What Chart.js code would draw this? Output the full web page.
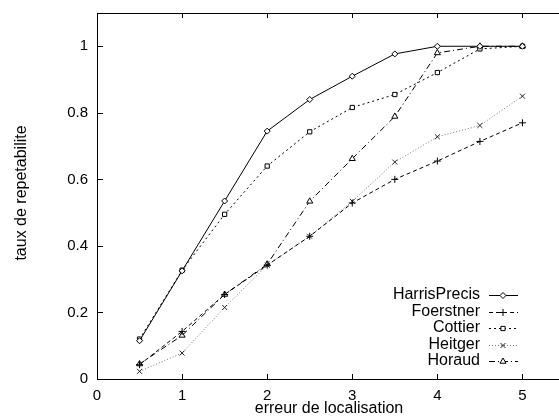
<!DOCTYPE html>
<html>
<head>
<meta charset="utf-8">
<script src="https://cdn.jsdelivr.net/npm/chart.js@4/dist/chart.umd.min.js"></script>
<style>
  html, body { margin: 0; padding: 0; background: #fff; overflow: hidden; }
  #wrap { width: 570px; height: 417px; }
  canvas { display: block; max-width: none; }
</style>
</head>
<body>
<div id="wrap"><canvas id="chart" width="570" height="417" style="width:570px;height:417px"></canvas></div>
<script>
// erreur de localisation
const erreurs = [0.5, 1, 1.5, 2, 2.5, 3, 3.5, 4, 4.5, 5];

const harrisPrecis = [0.115, 0.325, 0.535, 0.745, 0.84, 0.91, 0.977, 1.0, 1.0, 1.0];
const foerstner    = [0.043, 0.143, 0.254, 0.342, 0.429, 0.529, 0.6, 0.655, 0.714, 0.77];
const cottier      = [0.12, 0.327, 0.495, 0.64, 0.743, 0.816, 0.855, 0.921, 0.992, 1.0];
const heitger      = [0.023, 0.078, 0.215, 0.342, 0.429, 0.534, 0.652, 0.728, 0.762, 0.85];
const horaud       = [0.045, 0.131, 0.254, 0.345, 0.534, 0.662, 0.789, 0.98, 1.0, 1.0];

const xTicks = [0, 1, 2, 3, 4, 5];
const yTicks = [0, 0.2, 0.4, 0.6, 0.8, 1];

const font = 'Liberation Sans, Arial, Helvetica, sans-serif';

function pts(ys) {
    return erreurs.map((x, i) => ({ x: x, y: ys[i] }));
}

function serie(label, ys, color, markColor, dash, style, radius) {
    return {
        label: label,
        data: pts(ys),
        borderColor: color,
        borderWidth: 1,
        borderDash: dash,
        pointStyle: style,
        pointRadius: radius,
        pointBorderColor: markColor,
        pointBackgroundColor: '#fff',
        pointBorderWidth: 1,
        fill: false,
        tension: 0
    };
}

const datasets = [
    serie('HarrisPrecis', harrisPrecis, '#000', '#000', [], 'rectRot', 3),
    serie('Foerstner', foerstner, '#000', '#000', [4, 3], 'cross', 3.5),
    serie('Cottier', cottier, '#000', '#000', [2, 3], 'rect', 3),
    serie('Heitger', heitger, '#777', '#222', [1, 2], 'crossRot', 3.5),
    serie('Horaud', horaud, '#000', '#000', [6, 3, 1, 3], 'triangle', 3.5)
];

// cadre, graduations interieures, titres et legende facon gnuplot
const gnuplotStyle = {
    id: 'gnuplotStyle',
    afterDraw(chart) {
        const ctx = chart.ctx;
        const a = chart.chartArea;
        const sx = chart.scales.x, sy = chart.scales.y;
        ctx.save();
        ctx.strokeStyle = '#000';
        ctx.lineWidth = 1;
        ctx.setLineDash([]);
        ctx.strokeRect(Math.round(a.left) + 0.5, Math.round(a.top) + 0.5,
                       Math.round(a.right - a.left), Math.round(a.bottom - a.top));
        ctx.beginPath();
        xTicks.forEach(v => {
            const px = Math.round(sx.getPixelForValue(v)) + 0.5;
            ctx.moveTo(px, a.bottom); ctx.lineTo(px, a.bottom - 5);
            ctx.moveTo(px, a.top); ctx.lineTo(px, a.top + 5);
        });
        yTicks.forEach(v => {
            const py = Math.round(sy.getPixelForValue(v)) + 0.5;
            ctx.moveTo(a.left, py); ctx.lineTo(a.left + 6, py);
            ctx.moveTo(a.right, py); ctx.lineTo(a.right - 6, py);
        });
        ctx.stroke();

        ctx.fillStyle = '#000';
        ctx.font = '16px ' + font;
        ctx.textAlign = 'center';
        ctx.textBaseline = 'middle';
        ctx.fillText('erreur de localisation', 329, 409);
        ctx.save();
        ctx.translate(22, 193);
        ctx.rotate(-Math.PI / 2);
        ctx.fillText('taux de repetabilite', 0, 0);
        ctx.restore();

        // legende
        ctx.textAlign = 'right';
        datasets.forEach((ds, i) => {
            const y = 295 + i * 16.5;
            ctx.fillStyle = '#000';
            ctx.fillText(ds.label, 480, y);
            ctx.strokeStyle = ds.borderColor;
            ctx.setLineDash(ds.borderDash);
            ctx.beginPath();
            ctx.moveTo(489, Math.round(y) + 0.5);
            ctx.lineTo(518, Math.round(y) + 0.5);
            ctx.stroke();
            ctx.setLineDash([]);
            ctx.strokeStyle = ds.pointBorderColor;
            ctx.fillStyle = '#fff';
            Chart.helpers.drawPoint(ctx, {
                pointStyle: ds.pointStyle,
                radius: ds.pointRadius,
                borderWidth: 1,
                rotation: 0
            }, 503, Math.round(y) + 0.5);
        });
        ctx.restore();
    }
};

new Chart(document.getElementById('chart'), {
    type: 'scatter',
    data: { datasets: datasets.map(d => Object.assign({ showLine: true }, d)) },
    options: {
        responsive: false,
        animation: false,
        devicePixelRatio: 1,
        layout: { padding: { left: 0, right: 0, top: 13, bottom: 0 } },
        plugins: { legend: { display: false }, tooltip: { enabled: false } },
        scales: {
            x: {
                type: 'linear',
                min: 0,
                max: 5.5,
                grid: { display: false, drawTicks: false },
                border: { display: false },
                ticks: {
                    stepSize: 1,
                    includeBounds: false,
                    padding: 8,
                    color: '#000',
                    font: { family: font, size: 15 },
                    callback: v => String(v)
                },
                afterFit: s => {
                    s.height = 38;
                    s.paddingLeft = 0; s.paddingRight = 0;
                }
            },
            y: {
                type: 'linear',
                min: 0,
                max: 1.1,
                grid: { display: false, drawTicks: false },
                border: { display: false },
                ticks: {
                    stepSize: 0.2,
                    includeBounds: false,
                    padding: 9,
                    color: '#000',
                    font: { family: font, size: 15 },
                    callback: v => String(Math.round(v * 10) / 10)
                },
                afterFit: s => {
                    s.width = 97;
                    s.paddingTop = 0; s.paddingBottom = 0;
                }
            }
        }
    },
    plugins: [gnuplotStyle]
});
</script>
</body>
</html>
